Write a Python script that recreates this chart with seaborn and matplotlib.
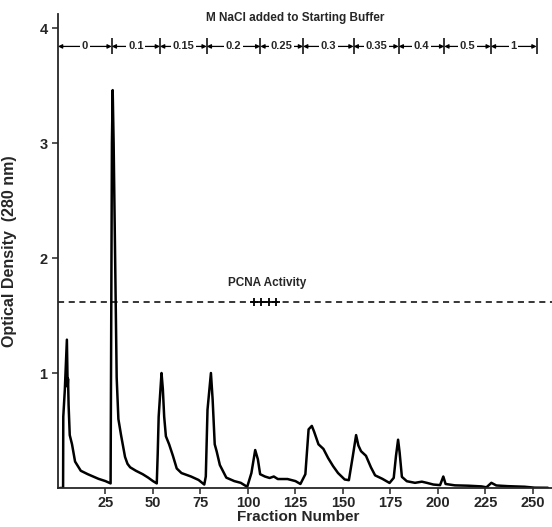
import matplotlib
matplotlib.use('Agg')

import matplotlib.pyplot as plt
import seaborn as sns

# elution profile
fraction = [1, 2.7, 2.8, 3.6, 4.7, 5.1, 5.3, 5.6, 6.2, 7.4, 9.0, 12.0, 15.7, 21.3, 25.0, 27.7,
            28.4, 28.8, 29.3, 30.9, 31.8, 33.2, 35.3, 36.6, 38.0, 41.0, 44.6, 47.5, 50.0, 52.0,
            52.5, 53.0, 54.5, 55.2, 55.9, 56.8, 58.5, 60.5, 62.5, 65.0, 70.0, 74.0, 77.0,
            77.8, 78.7, 80.5, 81.4, 82.5, 83.5, 85.2, 88.6, 92.8, 96.2, 99.6,
            101.8, 103.8, 105.2, 106.4, 108.9, 111.4, 113.6, 115.7, 120.8, 125.0, 127.6,
            130.2, 131.9, 133.6, 134.8, 137.1, 139.7, 142.2, 144.8, 147.4, 150.9, 153.1,
            155.2, 156.9, 158.1, 159.5, 162.1, 164.7, 166.9, 170.7, 174.5,
            176.7, 177.9, 179.0, 179.8, 181.0, 183.6, 187.9, 191.5, 194.1, 197.6, 201.1,
            202.8, 204.0, 208.9, 215.9, 222.9, 225.5, 228.1, 230.7, 236.8, 245.6, 250.8, 257.8]
od = [0.0, 0.0, 0.62, 0.85, 1.29, 0.88, 0.95, 0.72, 0.46, 0.38, 0.23, 0.15, 0.12, 0.08, 0.06, 0.04,
      3.0, 3.46, 3.0, 0.96, 0.6, 0.46, 0.27, 0.21, 0.18, 0.15, 0.12, 0.09, 0.06, 0.04,
      0.3, 0.62, 1.0, 0.86, 0.62, 0.45, 0.38, 0.28, 0.17, 0.13, 0.1, 0.07, 0.03,
      0.1, 0.68, 1.0, 0.77, 0.38, 0.32, 0.2, 0.09, 0.06, 0.045, 0.01,
      0.13, 0.33, 0.25, 0.12, 0.10, 0.087, 0.10, 0.078, 0.078, 0.06, 0.035,
      0.12, 0.51, 0.54, 0.49, 0.38, 0.34, 0.26, 0.19, 0.13, 0.074, 0.068,
      0.28, 0.46, 0.37, 0.32, 0.28, 0.18, 0.11, 0.08, 0.044,
      0.088, 0.28, 0.42, 0.31, 0.097, 0.059, 0.045, 0.055, 0.045, 0.03, 0.025,
      0.10, 0.035, 0.023, 0.02, 0.014, 0.006, 0.045, 0.022, 0.016, 0.011, 0.003, 0.002]

salt_labels = ['0', '0.1', '0.15', '0.2', '0.25', '0.3', '0.35', '0.4', '0.5', '1']
salt_bounds = [0, 28.3, 53.7, 78.3, 106.5, 129, 155.6, 179.3, 203.3, 227.8, 251.9]

pcna_level = 1.62
pcna_fractions = [103, 107, 111, 115]

sns.set_style('ticks')
plt.rcParams['font.family'] = ['Liberation Sans', 'DejaVu Sans']
plt.rcParams['font.weight'] = 'bold'

fig = plt.figure(figsize=(5.52, 5.27), dpi=100)
ax = fig.add_axes([0.105, 0.074, 0.895, 0.899])

sns.lineplot(x=fraction, y=od, color='black', linewidth=1.8, ax=ax, sort=False)

# PCNA activity
ax.axhline(pcna_level, color='black', linewidth=1.1, linestyle=(0, (4, 3)))
ax.plot(pcna_fractions, [pcna_level] * len(pcna_fractions), linestyle='none',
        marker='+', markersize=6, markeredgewidth=1.3, color='black')
ax.text(110, 1.78, 'PCNA Activity', ha='center', va='center', fontsize=8.5, fontweight='bold')

# salt step annotation
y_arrow = 3.84
for i, lab in enumerate(salt_labels):
    a, b = salt_bounds[i], salt_bounds[i + 1]
    ax.annotate('', xy=(a, y_arrow), xytext=(b, y_arrow),
                arrowprops=dict(arrowstyle='<|-|>', mutation_scale=6, lw=0.9,
                                color='black', shrinkA=0, shrinkB=0))
    ax.text((a + b) / 2, y_arrow, lab, ha='center', va='center', fontsize=8,
            fontweight='bold', zorder=5,
            bbox=dict(fc='white', ec='none', pad=1.2))
ax.vlines(salt_bounds[1:], y_arrow - 0.07, y_arrow + 0.07, color='black', linewidth=1.1)
ax.text(125, 4.09, 'M NaCl added to Starting Buffer', ha='center', va='center',
        fontsize=8.5, fontweight='bold')

ax.set_xlim(0, 260)
ax.set_ylim(0, 4.12)
ax.set_xticks(range(25, 251, 25))
ax.set_yticks([1, 2, 3, 4])
ax.tick_params(axis='both', direction='out', length=4, width=1.1, labelsize=10.5)
ax.tick_params(axis='x', pad=2)
for lab in ax.get_xticklabels() + ax.get_yticklabels():
    lab.set_fontweight('bold')

ax.set_xlabel('Fraction Number', fontsize=11, fontweight='bold')
ax.set_ylabel('Optical Density  (280 nm)', fontsize=11.5, fontweight='bold')
ax.xaxis.set_label_coords(0.486, -0.046)
ax.yaxis.set_label_coords(-0.083, 0.5)

sns.despine(ax=ax)
for side in ['left', 'bottom']:
    ax.spines[side].set_linewidth(1.3)

fig.savefig('out.png', dpi=100)
